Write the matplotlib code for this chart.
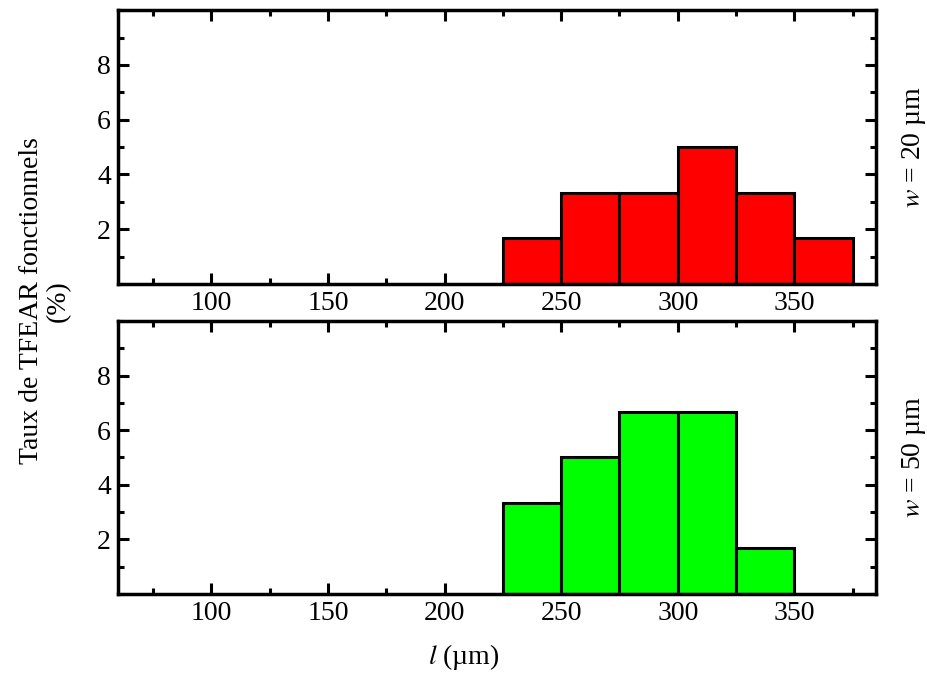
import matplotlib
matplotlib.use("Agg")
import matplotlib.pyplot as plt
from matplotlib.ticker import MultipleLocator, FixedLocator

plt.rcParams['font.family'] = ['Liberation Serif', 'DejaVu Serif']
plt.rcParams['mathtext.fontset'] = 'stix'

bin_left = [225, 250, 275, 300, 325, 350]
bin_width = 25
rate_w20 = [1.67, 3.33, 3.33, 5.0, 3.33, 1.67]
bin_left_w50 = [225, 250, 275, 300, 325]
rate_w50 = [3.33, 5.0, 6.67, 6.67, 1.67]
panel_labels = [r'$w$ = 20 µm', r'$w$ = 50 µm']
colors = ['#ff0000', '#00ff00']
xticks = [100, 150, 200, 250, 300, 350]
yticks = [2, 4, 6, 8]

fig = plt.figure(figsize=(9.27, 6.76), dpi=100)
ax1 = fig.add_axes([0.1273, 0.580, 0.8177, 0.405])
ax2 = fig.add_axes([0.1273, 0.1213, 0.8177, 0.404])

FS = 20
for ax, lefts, vals, col, lab in [(ax1, bin_left, rate_w20, colors[0], panel_labels[0]),
                                  (ax2, bin_left_w50, rate_w50, colors[1], panel_labels[1])]:
    ax.bar(lefts, vals, width=bin_width, align='edge', color=col,
           edgecolor='black', linewidth=2.2, zorder=2)
    ax.set_xlim(60, 385)
    ax.set_ylim(0, 10)
    ax.xaxis.set_major_locator(FixedLocator(xticks))
    ax.xaxis.set_minor_locator(MultipleLocator(25))
    ax.yaxis.set_major_locator(FixedLocator(yticks))
    ax.yaxis.set_minor_locator(MultipleLocator(1))
    ax.tick_params(which='both', direction='in', top=True, right=True,
                   width=2.2, labelsize=FS, pad=5)
    ax.tick_params(which='major', length=8)
    ax.tick_params(which='minor', length=4.5)
    for s in ax.spines.values():
        s.set_linewidth(2.5)
        s.set_zorder(3)
    ax.text(1.05, 0.5, lab, transform=ax.transAxes, rotation=90,
            ha='center', va='center', fontsize=FS)

fig.text(0.048, 0.555, 'Taux de TFEAR fonctionnels\n(%)', rotation=90,
         ha='center', va='center', fontsize=FS, linespacing=1.1)
fig.text(0.5, 0.028, r'$l$ (µm)', ha='center', va='center', fontsize=FS)

fig.savefig('out.png', dpi=100)
